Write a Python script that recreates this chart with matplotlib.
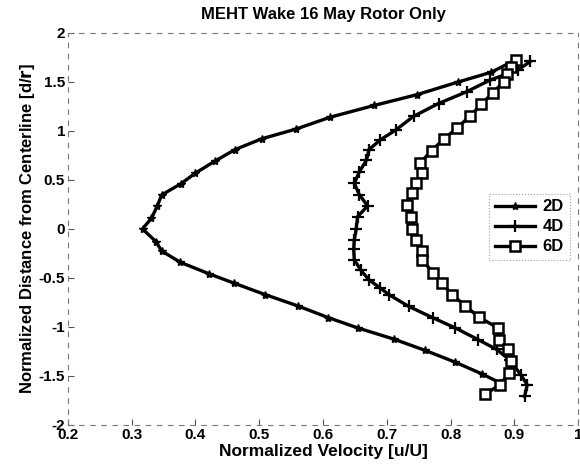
import matplotlib.pyplot as plt
from matplotlib.ticker import FuncFormatter

plt.rcParams['font.family'] = ['Liberation Sans', 'DejaVu Sans']
plt.rcParams['font.weight'] = 'bold'

# wake profiles, normalized velocity u/U vs. distance d/r
d_2d = [1.73, 1.60, 1.50, 1.37, 1.26, 1.14, 1.02, 0.92, 0.81, 0.69, 0.57, 0.46, 0.347, 0.23, 0.109, 0.0,
        -0.13, -0.225, -0.34, -0.46, -0.555, -0.67, -0.785, -0.905, -1.01, -1.125, -1.24, -1.36, -1.48, -1.57]
v_2d = [0.903, 0.864, 0.812, 0.747, 0.680, 0.611, 0.558, 0.504, 0.462, 0.430, 0.400, 0.377, 0.347, 0.340, 0.331, 0.317,
        0.338, 0.347, 0.376, 0.422, 0.461, 0.509, 0.560, 0.608, 0.654, 0.711, 0.760, 0.807, 0.849, 0.877]

d_4d = [1.71, 1.62, 1.52, 1.40, 1.28, 1.15, 1.01, 0.91, 0.81, 0.70, 0.585, 0.465, 0.347, 0.235, 0.125, 0.0,
        -0.11, -0.21, -0.315, -0.42, -0.52, -0.605, -0.67, -0.79, -0.91, -1.01, -1.13, -1.23, -1.34, -1.49,
        -1.59, -1.71]
v_4d = [0.925, 0.905, 0.862, 0.825, 0.781, 0.742, 0.714, 0.690, 0.672, 0.668, 0.657, 0.649, 0.657, 0.670, 0.654, 0.652,
        0.649, 0.648, 0.649, 0.659, 0.672, 0.690, 0.703, 0.734, 0.773, 0.807, 0.843, 0.872, 0.893, 0.910,
        0.920, 0.916]

d_6d = [1.72, 1.65, 1.58, 1.50, 1.39, 1.27, 1.15, 1.03, 0.92, 0.80, 0.67, 0.57, 0.465, 0.365, 0.245, 0.125, 0.0,
        -0.11, -0.23, -0.315, -0.45, -0.555, -0.67, -0.785, -0.90, -1.01, -1.13, -1.23, -1.35, -1.47, -1.59, -1.69]
v_6d = [0.903, 0.895, 0.888, 0.883, 0.866, 0.848, 0.830, 0.810, 0.790, 0.770, 0.752, 0.755, 0.745, 0.740, 0.731, 0.738, 0.740,
        0.745, 0.755, 0.755, 0.773, 0.786, 0.802, 0.823, 0.844, 0.874, 0.876, 0.890, 0.895, 0.892, 0.877, 0.854]

fig = plt.figure(figsize=(5.8, 4.71), dpi=100)
ax = fig.add_axes([0.117, 0.098, 0.88, 0.832])

ax.plot(v_2d, d_2d, '-*', color='black', lw=2.4, ms=6, label='2D')
ax.plot(v_4d, d_4d, '-+', color='black', lw=2.4, ms=9, mew=1.6, label='4D')
ax.plot(v_6d, d_6d, '-s', color='black', lw=2.4, ms=6.5, mew=1.8, mfc='white', label='6D')

ax.set_xlim(0.2, 1.0)
ax.set_ylim(-2, 2)
ax.set_xticks([0.2, 0.3, 0.4, 0.5, 0.6, 0.7, 0.8, 0.9, 1.0])
ax.set_yticks([-2, -1.5, -1, -0.5, 0, 0.5, 1, 1.5, 2])
fmt = FuncFormatter(lambda v, p: ('%g' % round(v, 2)))
ax.xaxis.set_major_formatter(fmt)
ax.yaxis.set_major_formatter(fmt)
ax.tick_params(direction='in', length=4, labelsize=11, pad=2, color='#555555')
for lab in ax.get_xticklabels() + ax.get_yticklabels():
    lab.set_fontweight('heavy')
for s in ax.spines.values():
    s.set_linestyle((0, (4, 6)))
    s.set_color('#777777')
    s.set_linewidth(0.8)

ax.set_title('MEHT Wake 16 May Rotor Only', fontsize=12, fontweight='heavy', pad=10)
ax.set_xlabel('Normalized Velocity [u/U]', fontsize=12.5, fontweight='heavy', labelpad=2)
ax.set_ylabel('Normalized Distance from Centerline [d/$\\mathbf{r}$]', fontsize=12, fontweight='heavy', labelpad=1)

leg = ax.legend(loc='center right', bbox_to_anchor=(1.0, 0.505), fontsize=12, frameon=True,
                fancybox=False, handlelength=2.4, borderpad=0.35, labelspacing=0.3, handletextpad=0.5)
leg.get_frame().set_edgecolor('#888888')
leg.get_frame().set_linestyle(':')
leg.get_frame().set_linewidth(0.8)
for t in leg.get_texts():
    t.set_fontweight('heavy')

plt.savefig('out.png', dpi=100)
